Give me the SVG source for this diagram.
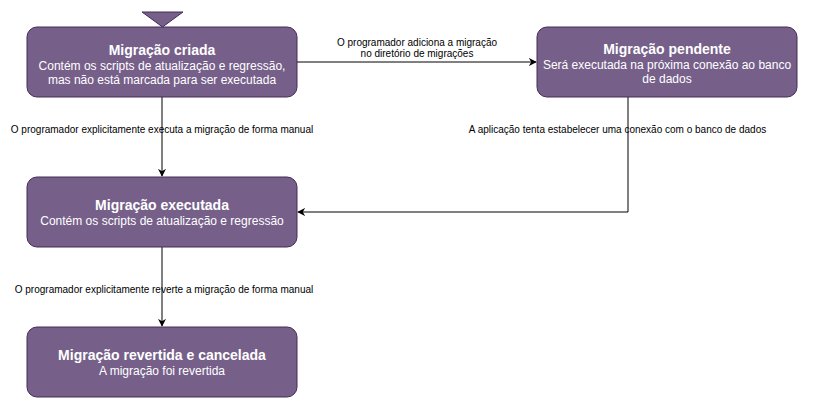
<svg xmlns="http://www.w3.org/2000/svg" width="817" height="407" viewBox="0 0 817 407">
<style>
.node{fill:#76608a;stroke:#432d57;stroke-width:1}
.t{font-family:"Liberation Sans",Arial,sans-serif;fill:#ffffff;text-anchor:middle}
.h{font-size:14px;font-weight:bold}
.s{font-size:12px}
.e{fill:none;stroke:#000;stroke-width:1}
.l{font-family:"Liberation Sans",Arial,sans-serif;font-size:10px;fill:#000;text-anchor:middle}
</style>
<defs>
<marker id="arr" viewBox="0 0 10 10" refX="9" refY="5" markerWidth="8" markerHeight="8" markerUnits="userSpaceOnUse" orient="auto">
<path d="M0,0 L10,5 L0,10 L3,5 Z" fill="#000"/>
</marker>
</defs>
<rect width="817" height="407" fill="#fff"/>
<g id="edges">
<path class="e" d="M297,62 H536" marker-end="url(#arr)"/>
<text class="l" x="417" y="46">O programador adiciona a migração</text>
<text class="l" x="417" y="57">no diretório de migrações</text>
<path class="e" d="M162,97 V176" marker-end="url(#arr)"/>
<text class="l" x="162" y="133">O programador explicitamente executa a migração de forma manual</text>
<path class="e" d="M628,97 V212 H298" marker-end="url(#arr)"/>
<text class="l" x="617.5" y="133">A aplicação tenta estabelecer uma conexão com o banco de dados</text>
<path class="e" d="M162,247 V326" marker-end="url(#arr)"/>
<text class="l" x="164" y="293">O programador explicitamente reverte a migração de forma manual</text>
</g>
<g id="start">
<path class="node" d="M142,12 H183 L162.5,27 Z"/>
</g>
<g id="criada">
<rect class="node" x="27" y="27" width="270" height="70" rx="10"/>
<text class="t h" x="162" y="55">Migração criada</text>
<text class="t s" x="162" y="70">Contém os scripts de atualização e regressão,</text>
<text class="t s" x="162" y="84">mas não está marcada para ser executada</text>
</g>
<g id="pendente">
<rect class="node" x="537" y="27" width="260" height="70" rx="10"/>
<text class="t h" x="667" y="54">Migração pendente</text>
<text class="t s" x="667" y="69">Será executada na próxima conexão ao banco</text>
<text class="t s" x="667" y="83">de dados</text>
</g>
<g id="executada">
<rect class="node" x="27" y="177" width="270" height="70" rx="10"/>
<text class="t h" x="162" y="210">Migração executada</text>
<text class="t s" x="162" y="225">Contém os scripts de atualização e regressão</text>
</g>
<g id="revertida">
<rect class="node" x="27" y="327" width="270" height="70" rx="10"/>
<text class="t h" x="162" y="360">Migração revertida e cancelada</text>
<text class="t s" x="162" y="375">A migração foi revertida</text>
</g>
</svg>
